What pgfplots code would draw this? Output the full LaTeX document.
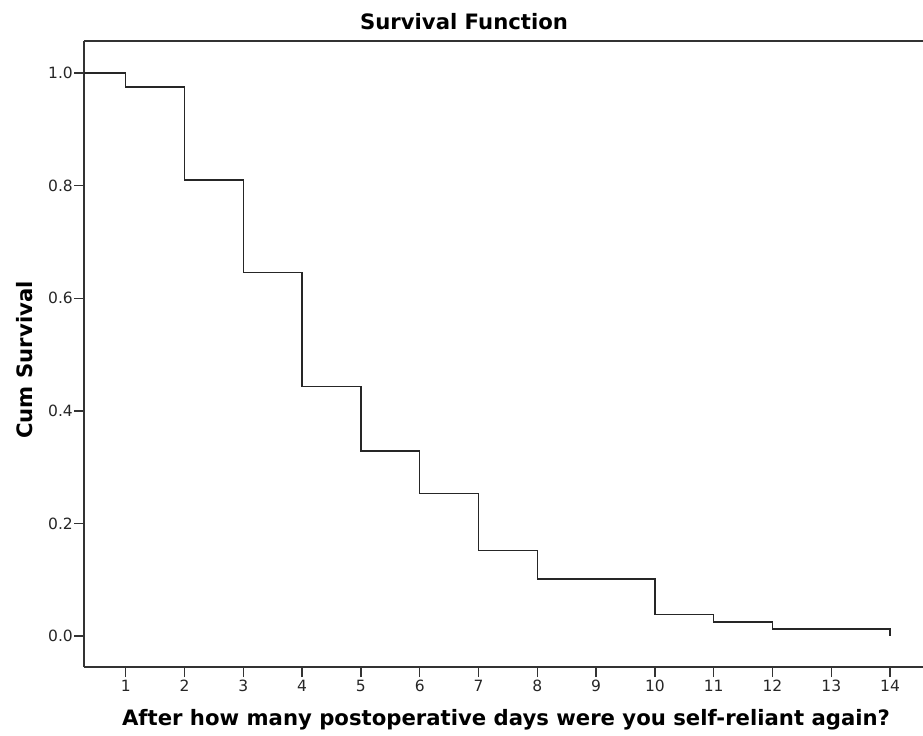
\documentclass[border=0pt]{standalone}
\usepackage{fontspec}
\setmainfont{DejaVu Sans}
\usepackage{pgfplots}
\pgfplotsset{compat=1.18}

\newcommand{\lblfont}{\bfseries\fontsize{21.2bp}{24bp}\selectfont}
\newcommand{\tickfont}{\fontsize{15.5bp}{18bp}\selectfont}

\begin{document}
\begin{tikzpicture}
  \useasboundingbox (0,0) rectangle (923bp,-736bp);
  \begin{axis}[
      at={(84bp,-667bp)}, anchor=south west,
      scale only axis, width=839bp, height=626bp,
      xmin=0.29, xmax=14.56, ymin=-0.055, ymax=1.057,
      axis x line*=bottom, axis y line*=left,
      axis line style={black!80, line width=1.4bp},
      tick align=outside, major tick length=10bp,
      tick style={black!80, line width=1.4bp},
      xtick={1,...,14},
      ytick={0,0.2,0.4,0.6,0.8,1.0},
      ticklabel style={font=\tickfont, text=black!85},
      xticklabel style={inner sep=3bp},
      yticklabel style={inner sep=1bp},
      /pgf/number format/assume math mode=true,
      yticklabel={\pgfmathprintnumber[fixed, fixed zerofill, precision=1]{\tick}},
    ]
    % Kaplan-Meier steps (n = 79)
    \addplot[const plot, black!85, line width=1.5bp] coordinates {
      (0, 1.000)
      (1, 0.975)
      (2, 0.810)
      (3, 0.646)
      (4, 0.443)
      (5, 0.329)
      (6, 0.253)
      (7, 0.152)
      (8, 0.101)
      (10, 0.038)
      (11, 0.025)
      (12, 0.0127)
      (14, 0.0)
    };
  \end{axis}
  \draw[black!80, line width=1.4bp] (84bp,-41bp) -- (923bp,-41bp);
  \node[font=\lblfont] at (464bp,-22bp) {Survival Function};
  \node[font=\lblfont, rotate=90] at (25bp,-360bp) {Cum Survival};
  \node[font=\lblfont] at (506bp,-720bp) {After how many postoperative days were you self-reliant again?};
\end{tikzpicture}
\end{document}
